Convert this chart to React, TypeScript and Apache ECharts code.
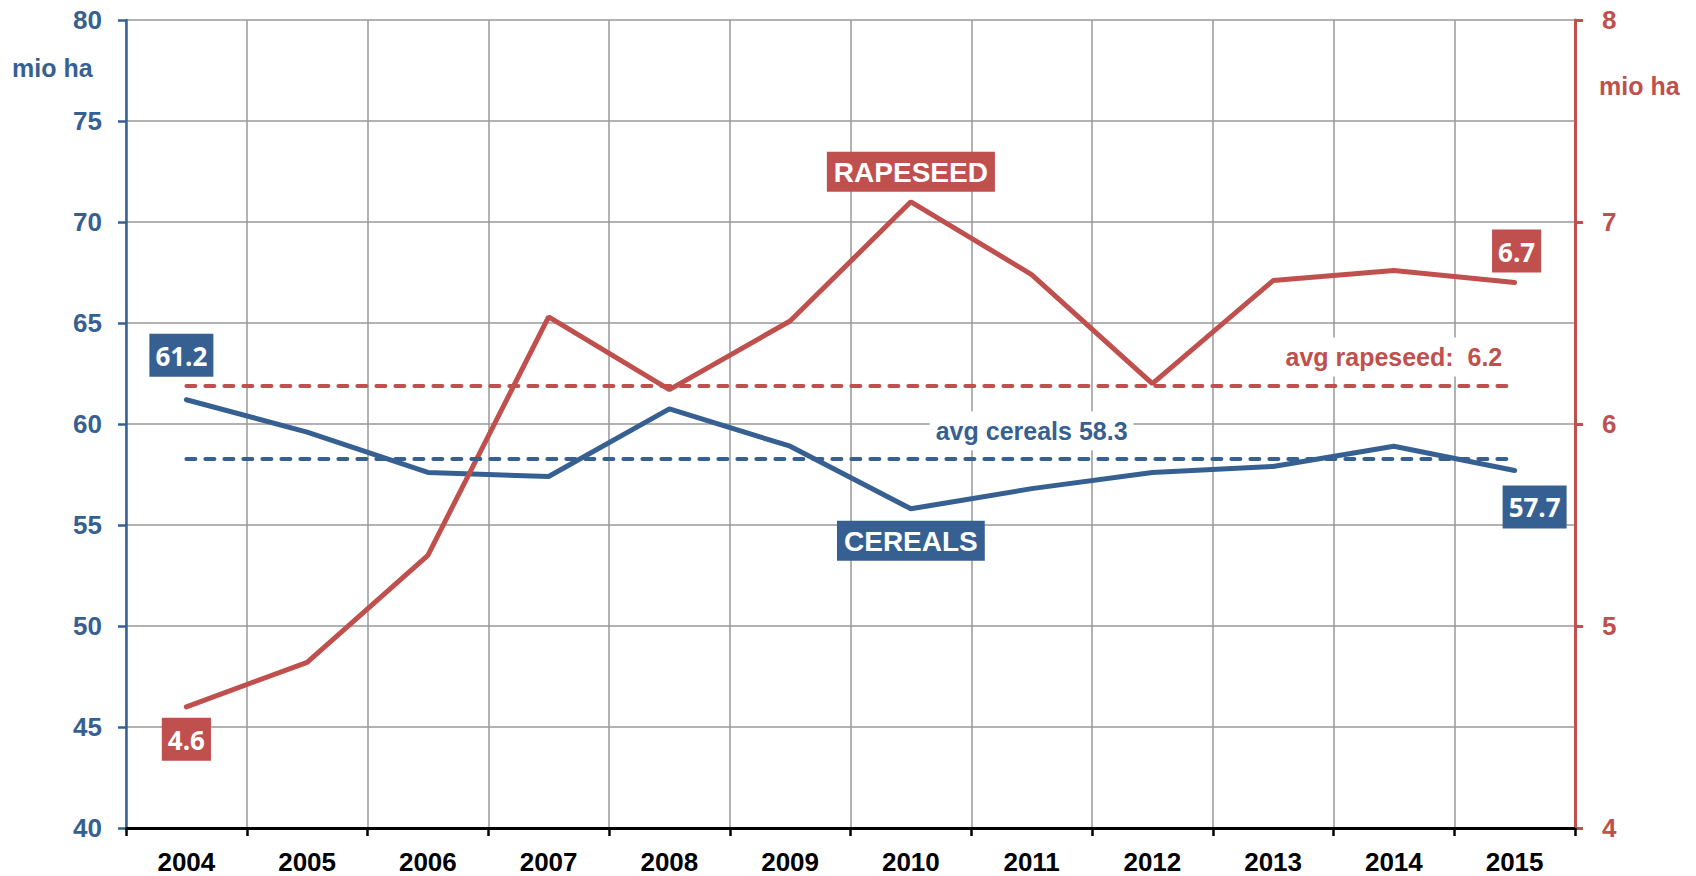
import React, { useEffect, useRef } from "react";
import * as echarts from "echarts";

const years = ["2004", "2005", "2006", "2007", "2008", "2009", "2010", "2011", "2012", "2013", "2014", "2015"];
const cereals = [61.2, 59.6, 57.6, 57.4, 60.75, 58.9, 55.8, 56.8, 57.6, 57.9, 58.9, 57.7];
const rapeseed = [4.6, 4.82, 5.35, 6.53, 6.17, 6.51, 7.1, 6.74, 6.2, 6.71, 6.76, 6.7];
const avgCereals = 58.3;
const avgRapeseed = 6.19;
const cerealsName = "CEREALS";
const rapeseedName = "RAPESEED";
const unitLabel = "mio ha";
const leftTicks = { min: 40, max: 80, interval: 5 };
const rightTicks = { min: 4, max: 8, interval: 1 };
const cerealsAvgLabelYear = "2011";
const rapeseedAvgLabelYear = "2014";
const nameLabelYear = "2010";

const BLUE = "#376092";
const RED = "#C0504D";
const FONT = "'Liberation Sans', Arial, sans-serif";
const NUMFONT = "'Open Sans', 'Liberation Sans', sans-serif";

function numBox(color: string, position: string, distance: number, offset?: number[]) {
  return {
    show: true,
    position,
    distance,
    offset: offset || [0, 0],
    formatter: (p: any) => Number(p.value).toFixed(1),
    backgroundColor: color,
    color: "#ffffff",
    fontFamily: NUMFONT,
    fontWeight: "bold",
    fontSize: 26,
    lineHeight: 30,
    padding: [7, 6, 6, 6],
  };
}

function nameBox(text: string, color: string, position: string, distance: number) {
  return {
    show: true,
    position,
    distance,
    formatter: text,
    backgroundColor: color,
    color: "#ffffff",
    fontFamily: FONT,
    fontWeight: "bold",
    fontSize: 28,
    lineHeight: 30,
    padding: [6, 7, 4, 7],
  };
}

export default function App() {
  const ref = useRef<HTMLDivElement>(null);
  useEffect(() => {
    if (!ref.current) return;
    const chart = echarts.init(ref.current, undefined, { renderer: "svg" });
    const last = years.length - 1;
    const cerealsData = cereals.map((v, i) => {
      if (i === 0) return { value: v, label: numBox(BLUE, "top", 23, [-5, 0]) };
      if (i === last) return { value: v, label: numBox(BLUE, "bottom", 15, [20, 0]) };
      if (years[i] === nameLabelYear) return { value: v, label: nameBox(cerealsName, BLUE, "bottom", 12) };
      return { value: v };
    });
    const rapeData = rapeseed.map((v, i) => {
      if (i === 0) return { value: v, label: numBox(RED, "bottom", 11) };
      if (i === last) return { value: v, label: numBox(RED, "top", 10, [2, 0]) };
      if (years[i] === nameLabelYear) return { value: v, label: nameBox(rapeseedName, RED, "top", 10) };
      return { value: v };
    });
    const avgLabel = (color: string, text: string, distance: number) => ({
      show: true,
      position: "top",
      distance,
      formatter: text,
      color,
      fontFamily: FONT,
      fontWeight: "bold",
      fontSize: 25,
      lineHeight: 29,
      backgroundColor: "#ffffff",
      padding: [5, 6, 5, 6],
    });
    chart.setOption({
      animation: false,
      backgroundColor: "#ffffff",
      grid: { left: 126, right: 121, top: 20, bottom: 48, containLabel: false },
      graphic: [
        {
          type: "text",
          left: 12,
          top: 55,
          style: { text: unitLabel, fill: BLUE, font: `bold 25px ${FONT}` },
        },
        {
          type: "text",
          left: 1599,
          top: 73,
          style: { text: unitLabel, fill: RED, font: `bold 25px ${FONT}` },
        },
      ],
      xAxis: {
        type: "category",
        data: years,
        boundaryGap: true,
        axisLine: { show: true, lineStyle: { color: "#000000", width: 3 } },
        axisTick: { show: true, length: 8, lineStyle: { color: "#000000", width: 2.5 } },
        axisLabel: {
          color: "#000000",
          fontFamily: FONT,
          fontWeight: "bold",
          fontSize: 26,
          lineHeight: 24,
          margin: 22,
        },
        splitLine: { show: true, lineStyle: { color: "#999999", width: 1.5 } },
      },
      yAxis: [
        {
          type: "value",
          min: leftTicks.min,
          max: leftTicks.max,
          interval: leftTicks.interval,
          position: "left",
          axisLine: { show: true, lineStyle: { color: BLUE, width: 2.5 } },
          axisTick: { show: true, length: 8, lineStyle: { color: BLUE, width: 2.5 } },
          axisLabel: { color: BLUE, fontFamily: FONT, fontWeight: "bold", fontSize: 26, margin: 24 },
          splitLine: { show: true, lineStyle: { color: "#999999", width: 1.5 } },
        },
        {
          type: "value",
          min: rightTicks.min,
          max: rightTicks.max,
          interval: rightTicks.interval,
          position: "right",
          axisLine: { show: true, lineStyle: { color: RED, width: 3 } },
          axisTick: { show: true, length: 8, lineStyle: { color: RED, width: 3 } },
          axisLabel: { color: RED, fontFamily: FONT, fontWeight: "bold", fontSize: 26, margin: 27 },
          splitLine: { show: false },
        },
      ],
      series: [
        {
          type: "line",
          name: cerealsName,
          yAxisIndex: 0,
          data: cerealsData,
          symbol: "circle",
          symbolSize: 0,
          showSymbol: true,
          lineStyle: { color: BLUE, width: 5, cap: "round" },
          itemStyle: { color: BLUE },
          label: { show: false },
          z: 3,
          markLine: {
            silent: true,
            symbol: "none",
            label: { show: false },
            lineStyle: { color: BLUE, width: 4, type: [9, 10], cap: "round" },
            data: [[{ coord: [years[0], avgCereals] }, { coord: [years[last], avgCereals] }]],
          },
          markPoint: {
            silent: true,
            symbol: "rect",
            symbolSize: 0,
            data: [
              {
                coord: [cerealsAvgLabelYear, avgCereals],
                label: avgLabel(BLUE, `avg cereals ${avgCereals.toFixed(1)}`, 8),
              },
            ],
          },
        },
        {
          type: "line",
          name: rapeseedName,
          yAxisIndex: 1,
          data: rapeData,
          symbol: "circle",
          symbolSize: 0,
          showSymbol: true,
          lineStyle: { color: RED, width: 5, cap: "round" },
          itemStyle: { color: RED },
          label: { show: false },
          z: 4,
          markLine: {
            silent: true,
            symbol: "none",
            label: { show: false },
            lineStyle: { color: RED, width: 4, type: [9, 10], cap: "round" },
            data: [[{ coord: [years[0], avgRapeseed] }, { coord: [years[last], avgRapeseed] }]],
          },
          markPoint: {
            silent: true,
            symbol: "rect",
            symbolSize: 0,
            data: [
              {
                coord: [rapeseedAvgLabelYear, avgRapeseed],
                label: avgLabel(RED, `avg rapeseed:\u00a0\u00a0${avgRapeseed.toFixed(1)}`, 9),
              },
            ],
          },
        },
      ],
    });
    return () => chart.dispose();
  }, []);
  return (
    <div
      ref={ref}
      style={{ position: "fixed", left: 0, top: 0, width: 1696, height: 876, background: "#fff" }}
    />
  );
}
